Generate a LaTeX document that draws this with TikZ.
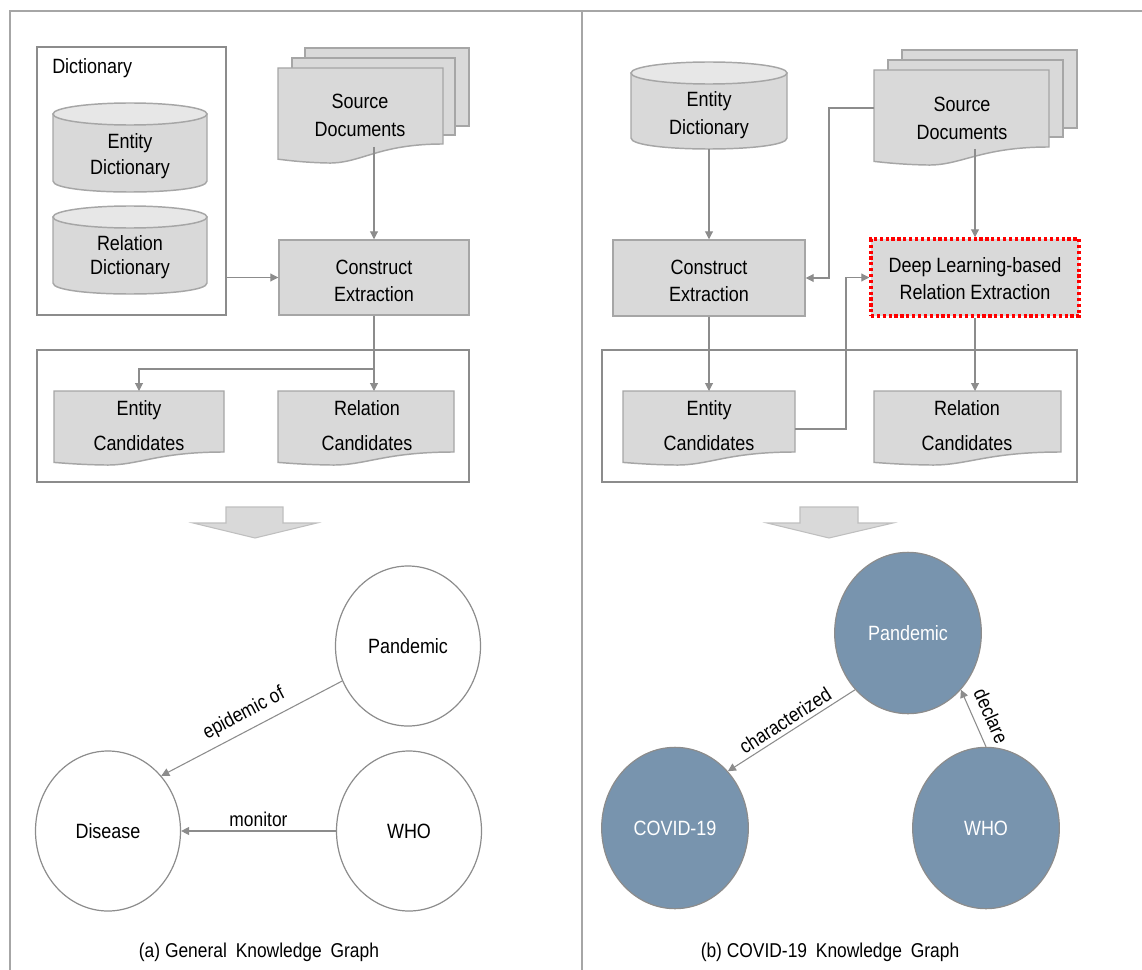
\documentclass[tikz,border=0pt]{standalone}
\usepackage{fontspec}
\setmainfont{Liberation Sans}[FakeStretch=0.87]
\usetikzlibrary{arrows.meta,shapes.geometric,calc}
\definecolor{boxfill}{HTML}{D9D9D9}
\definecolor{boxline}{HTML}{A6A6A6}
\definecolor{cyltopc}{HTML}{E7E7E7}
\definecolor{connc}{HTML}{8C8C8C}
\definecolor{framel}{HTML}{8C8C8C}
\definecolor{kgblue}{HTML}{7894AE}
\definecolor{bigarrowline}{HTML}{BFBFBF}
\newcommand{\wavedoc}[6]{%
  \path[#1] (#2,#3) -- (#4,#3) -- (#4,#5)
    .. controls ({#2+0.6*(#4-#2)},#5) and ({#2+0.5*(#4-#2)},{#5+1.05*#6}) .. ({#2+0.3*(#4-#2)},{#5+#6})
    .. controls ({#2+0.15*(#4-#2)},{#5+0.97*#6}) and ({#2+0.05*(#4-#2)},{#5+0.85*#6}) .. (#2,{#5+0.8*#6}) -- cycle;}
\newcommand{\mycyl}[5]{%
  \path[cylbody] (#1,{#2+#5}) -- (#1,{#4-#5})
    .. controls (#1,{#4+0.333*#5}) and (#3,{#4+0.333*#5}) .. (#3,{#4-#5}) -- (#3,{#2+#5}) -- cycle;
  \path[cyltopst] ({(#1+#3)/2},{#2+#5}) ellipse [x radius={(#3-#1)/2}, y radius=#5];}
\begin{document}
\begin{tikzpicture}[x=0.75pt,y=-0.75pt,
  txt/.style={font=\fontsize{15.5}{20}\selectfont, align=center, inner sep=0pt},
  procbox/.style={rectangle, fill=boxfill, draw=boxline, line width=1.1pt, align=center, inner sep=0pt},
  groupbox/.style={rectangle, draw=framel, line width=0.9pt, fill=white, inner sep=0pt},
  docstyle/.style={fill=boxfill, draw=boxline, line width=1.1pt},
  cylbody/.style={fill=boxfill, draw=boxline, line width=1.1pt},
  cyltopst/.style={fill=cyltopc, draw=boxline, line width=1.1pt},
  link/.style={draw=connc, line width=0.8pt, -{Triangle[length=6pt,width=6pt]}},
  kgw/.style={ellipse, draw=connc, line width=0.9pt, fill=white, inner sep=0pt, minimum width=108.75pt, minimum height=120pt, font=\fontsize{15.5}{18}\selectfont},
  kgb/.style={ellipse, draw=connc, line width=0.9pt, fill=kgblue, text=white, inner sep=0pt, minimum width=110pt, minimum height=121pt, font=\fontsize{15.5}{18}\selectfont},
  elabel/.style={font=\fontsize{15}{18}\selectfont, inner sep=2pt},
  bigarrow/.style={fill=boxfill, draw=bigarrowline, line width=0.8pt},
  framestyle/.style={draw=gray!70, line width=0.8pt}
]
\useasboundingbox (0,0) rectangle (1142,970);
% outer frame
\draw[framestyle] (10,970) -- (10,11) -- (1142,11);
\draw[framestyle] (582,11) -- (582,970);

% ================= LEFT PANEL =================
\node[groupbox, minimum width=141.75pt, minimum height=201pt] (dictL) at (131.5,181) {};
\node[txt, anchor=west] (dictLbl) at (52,68) {Dictionary};
\mycyl{53}{103}{207}{192}{11}
\node[txt, font=\fontsize{15.5}{19.5}\selectfont] (edictL) at (130,156) {Entity\\Dictionary};
\mycyl{53}{206}{207}{294}{11}
\node[txt, font=\fontsize{15.5}{17.5}\selectfont] (rdictL) at (130,257) {Relation\\Dictionary};

% source documents (left)
\path[docstyle] (305,48) rectangle (469,126);
\path[docstyle] (292,58) rectangle (455,135);
\wavedoc{docstyle}{278}{68}{443}{144}{19}
\node[txt, font=\fontsize{15.5}{21}\selectfont] (srcL) at (360,115) {Source\\Documents};
\coordinate (srcLb) at (374,147);

\node[procbox, minimum width=142.5pt, minimum height=56.25pt] (consL) at (374,277.5) {};
\node[txt, font=\fontsize{15.5}{20.25}\selectfont] (consLt) at (374,280.5) {Construct\\Extraction};

\node[groupbox, minimum width=324pt, minimum height=99pt] (candL) at (253,416) {};
\wavedoc{docstyle}{54}{391}{224}{452}{13}
\node[txt, font=\fontsize{15.5}{26.25}\selectfont] (entL) at (139,426) {Entity\\Candidates};
\wavedoc{docstyle}{278}{391}{454}{452}{13}
\node[txt, font=\fontsize{15.5}{26.25}\selectfont] (relL) at (367,426) {Relation\\Candidates};
\coordinate (entLt) at (139,391);
\coordinate (relLt) at (374,391);
\coordinate (brL) at (374,369);

\draw[link] (srcLb) -- (consL.north);
\draw[link] (dictL.east |- consL.west) -- (consL.west);
\draw[link] (consL.south) -- (relLt);
\draw[link] (brL) -| (entLt);

% big arrow left
\path[bigarrow] (226,507) -- (283,507) -- (283,523) -- (317,523) -- (255,538) -- (193,523) -- (226,523) -- cycle;

% knowledge graph left
\node[kgw] (pandL) at (408,646) {Pandemic};
\node[kgw] (disL) at (108,831) {Disease};
\node[kgw] (whoL) at (409,831) {WHO};
\draw[link] (pandL.208) -- node[elabel, sloped, above=3pt] {epidemic of} (disL.46);
\draw[link] (whoL) -- node[elabel, above=1pt] {monitor} (disL);

\node[txt, font=\fontsize{15}{18}\selectfont] (capA) at (259,952) {(a) General\hspace{3pt} Knowledge\hspace{3pt} Graph};

% ================= RIGHT PANEL =================
\mycyl{631}{62}{787}{149}{11}
\node[txt, font=\fontsize{15.5}{21.5}\selectfont] (edictR) at (709,115) {Entity\\Dictionary};
\coordinate (edictRb) at (709,149);

\path[docstyle] (902,50) rectangle (1077,128);
\path[docstyle] (888,60) rectangle (1063,137);
\wavedoc{docstyle}{874}{70}{1049}{147}{18}
\node[txt, font=\fontsize{15.5}{21}\selectfont] (srcR) at (962,118) {Source\\Documents};
\coordinate (srcRb) at (975,149);
\coordinate (srcRw) at (874,108);

\node[procbox, minimum width=144pt, minimum height=57pt] (consR) at (709,278) {};
\node[txt, font=\fontsize{15.5}{20.25}\selectfont] (consRt) at (709,281) {Construct\\Extraction};

\node[procbox, draw=red, line width=2.6pt, dash pattern=on 2.4pt off 2pt, minimum width=156pt, minimum height=57.75pt] (deep) at (975,277.5) {};
\node[txt, font=\fontsize{15.5}{20.25}\selectfont] (deept) at (975,279) {Deep Learning-based\\Relation Extraction};

\node[groupbox, minimum width=356.25pt, minimum height=99pt] (candR) at (839.5,416) {};
\wavedoc{docstyle}{623}{391}{795}{452}{13}
\node[txt, font=\fontsize{15.5}{26.25}\selectfont] (entR) at (709,426) {Entity\\Candidates};
\wavedoc{docstyle}{874}{391}{1061}{452}{13}
\node[txt, font=\fontsize{15.5}{26.25}\selectfont] (relR) at (967,426) {Relation\\Candidates};
\coordinate (entRt) at (709,391);
\coordinate (entRe) at (795,429);
\coordinate (relRt) at (975,391);

\draw[link] (edictRb) -- (consR.north);
\draw[link] (srcRb) -- (deep.north);
\draw[link] (srcRw) -- ++(-45,0) |- (consR.east);
\draw[link] (consR.south) -- (entRt);
\draw[link] (entRe) -- ++(51,0) |- (deep.west);
\draw[link] (deep.south) -- (relRt);

% big arrow right
\path[bigarrow] (800,507) -- (858,507) -- (858,523) -- (893,523) -- (829,538) -- (767,523) -- (800,523) -- cycle;

% knowledge graph right
\node[kgb] (pandR) at (908,633) {Pandemic};
\node[kgb] (covR) at (675,828) {COVID-19};
\node[kgb] (whoR) at (986,828) {WHO};
\draw[link] (pandR.227) -- node[elabel, sloped, above=1pt] {characterized} (covR.47);
\draw[link] (whoR.north) -- node[elabel, sloped, above=5pt, pos=0.42] {declare} (pandR.313);

\node[txt, font=\fontsize{15}{18}\selectfont] (capB) at (830,952) {(b) COVID-19\hspace{3pt} Knowledge\hspace{3pt} Graph};
\end{tikzpicture}
\end{document}
